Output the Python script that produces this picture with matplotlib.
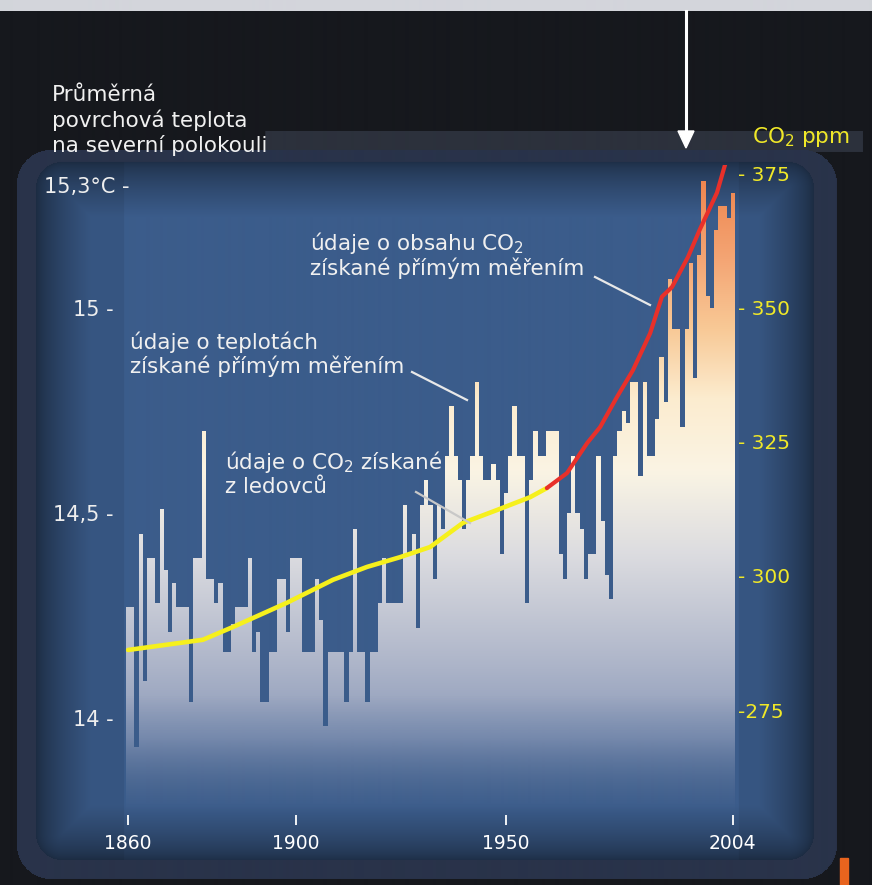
import numpy as np
import matplotlib
matplotlib.use("Agg")
import matplotlib.pyplot as plt
from matplotlib.colors import to_rgb
from matplotlib.patches import Polygon, Rectangle
from matplotlib.transforms import ScaledTranslation

# --- data ---
years = np.arange(1860, 2005)
temps = [14.27, 14.27, 13.93, 14.45, 14.09, 14.39, 14.39, 14.28, 14.51, 14.36,   # 1860s
         14.21, 14.33, 14.27, 14.27, 14.27, 14.04, 14.39, 14.39, 14.70, 14.34,   # 1870s
         14.34, 14.28, 14.33, 14.16, 14.16, 14.23, 14.27, 14.27, 14.27, 14.39,   # 1880s
         14.16, 14.21, 14.04, 14.04, 14.16, 14.16, 14.34, 14.34, 14.21, 14.39,   # 1890s
         14.39, 14.39, 14.16, 14.16, 14.16, 14.34, 14.24, 13.98, 14.16, 14.16,   # 1900s
         14.16, 14.16, 14.04, 14.16, 14.46, 14.16, 14.16, 14.04, 14.16, 14.16,   # 1910s
         14.28, 14.39, 14.28, 14.28, 14.28, 14.28, 14.52, 14.40, 14.45, 14.22,   # 1920s
         14.52, 14.58, 14.52, 14.34, 14.52, 14.46, 14.64, 14.76, 14.64, 14.58,   # 1930s
         14.46, 14.58, 14.64, 14.82, 14.64, 14.58, 14.58, 14.62, 14.58, 14.40,   # 1940s
         14.55, 14.64, 14.76, 14.64, 14.64, 14.28, 14.58, 14.70, 14.64, 14.64,   # 1950s
         14.70, 14.70, 14.70, 14.40, 14.34, 14.50, 14.64, 14.50, 14.46, 14.34,   # 1960s
         14.40, 14.40, 14.64, 14.48, 14.35, 14.29, 14.64, 14.70, 14.75, 14.72,   # 1970s
         14.82, 14.82, 14.59, 14.82, 14.64, 14.64, 14.73, 14.88, 14.77, 15.07,   # 1980s
         14.95, 14.95, 14.71, 14.95, 15.11, 14.83, 15.13, 15.31, 15.03, 15.00,   # 1990s
         15.19, 15.25, 15.25, 15.22, 15.28]                                      # 2000s

ice_years = [1860, 1877.8, 1885, 1897.8, 1908.8, 1916.9, 1924.7, 1931.9, 1939.7, 1947.8, 1955.7, 1959.7]
ice_co2 = [286.2, 288.1, 290.5, 295.0, 299.3, 301.7, 303.5, 305.4, 309.9, 312.3, 314.7, 316.4]

meas_years = [1959.7, 1964.5, 1969.3, 1972.4, 1976.4, 1980.2, 1984.3, 1987.1, 1989.5, 1993.3, 1996.1, 2000.2, 2002.6]
meas_co2 = [316.4, 319.2, 324.8, 327.8, 333.4, 338.4, 345.3, 352.1, 353.9, 359.5, 364.6, 371.5, 378.0]

temp_ticks = [14, 14.5, 15, 15.3]
temp_labels = ["14 -", "14,5 -", "15 -", "15,3°C -"]
co2_ticks = [275, 300, 325, 350, 375]
co2_labels = ["-275", "- 300", "- 325", "- 350", "- 375"]
year_ticks = [1860, 1900, 1950, 2004]

W, H = 872, 885
fig = plt.figure(figsize=(W / 100, H / 100), dpi=100, facecolor="#16181d")

# background layer in pixel coordinates
ax_bg = fig.add_axes([0, 0, 1, 1])
ax_bg.set_xlim(0, W)
ax_bg.set_ylim(H, 0)
ax_bg.axis("off")


def rr_sdf(xx, yy, x0, y0, x1, y1, r):
    cx, cy = (x0 + x1) / 2, (y0 + y1) / 2
    qx = np.abs(xx - cx) - ((x1 - x0) / 2 - r)
    qy = np.abs(yy - cy) - ((y1 - y0) / 2 - r)
    out = np.hypot(np.maximum(qx, 0), np.maximum(qy, 0))
    ins = np.minimum(np.maximum(qx, qy), 0)
    return out + ins - r


yy, xx = np.mgrid[0:H, 0:W] + 0.5
img = np.empty((H, W, 3))
img[:] = to_rgb("#16181d")
img[131:152, 265:862] = to_rgb("#2c313c")
sd_o = rr_sdf(xx, yy, 17, 150, 836, 879, 34)
img[sd_o < 0] = to_rgb("#29334a")
sd_i = rr_sdf(xx, yy, 36, 162, 813, 860, 26)
depth = np.clip(-sd_i / 55, 0, 1) ** 0.7
fac = 0.5 + 0.5 * depth
fac = fac * np.where((xx < 124) | (xx > 738), 0.93, 1.0)
base = np.array(to_rgb("#3b5c8b"))
inner = sd_i < 0
img[inner] = base * fac[inner][:, None]
img[0:11, :] = to_rgb("#d3d5db")
ax_bg.imshow(img, extent=[0, W, H, 0], interpolation="bilinear", aspect="auto")
ax_bg.add_patch(Rectangle((840, 858), 8, 27, color="#e8641e"))


# main chart axes
def T(ypx):
    return 15 - (ypx - 308) / 410


def C(ypx):
    return 350 + (308 - ypx) * 25 / 134


ax = fig.add_axes([126 / W, 1 - 815 / H, 609 / W, (815 - 165) / H])
ax.set_facecolor("none")
ax.set_xlim(1859.5, 2004.5)
tlo, thi = T(815), T(165)
ax.set_ylim(tlo, thi)
for s in ax.spines.values():
    s.set_visible(False)

# stepped bar outline used to clip a vertical gradient
verts = [(years[0] - 0.5, tlo)]
for yr, t in zip(years, temps):
    verts += [(yr - 0.5, t), (yr + 0.5, t)]
verts.append((years[-1] + 0.5, tlo))
clip = Polygon(verts, closed=True, facecolor="none", edgecolor="none")
ax.add_patch(clip)

stops = [(13.76, "#5d7399"), (13.95, "#8a99b8"), (14.15, "#b1b8cb"), (14.40, "#dcdce0"),
         (14.60, "#faf4e4"), (14.78, "#fceccf"), (14.95, "#f8c996"), (15.12, "#f4a574"),
         (15.35, "#ee8048")]
tv = np.linspace(tlo, thi, 500)
sv = [s[0] for s in stops]
rgb = np.stack([np.interp(tv, sv, [to_rgb(s[1])[k] for s in stops]) for k in range(3)], axis=1)
alpha = np.interp(tv, [tlo, 13.85, 13.95, 14.05], [0.0, 0.35, 0.75, 1.0])
grad = np.concatenate([rgb, alpha[:, None]], axis=1)[:, None, :]
im = ax.imshow(grad, extent=[1859.5, 2004.5, tlo, thi], origin="lower", aspect="auto",
               interpolation="bilinear", zorder=1)
im.set_clip_path(clip)

ax.set_xticks(year_ticks, [str(y) for y in year_ticks])
ax.tick_params(axis="x", length=7, width=1.3, color="white", pad=7, labelsize=13.5,
               labelcolor="white")
ax.set_yticks(temp_ticks, temp_labels)
ax.tick_params(axis="y", length=0, pad=9, labelsize=15, labelcolor="#eeeeee")
for lbl in ax.get_yticklabels():
    if "°C" in lbl.get_text():
        lbl.set_transform(lbl.get_transform() + ScaledTranslation(0.16, 0, fig.dpi_scale_trans))

ax2 = ax.twinx()
ax2.set_ylim(C(815), C(165))
for s in ax2.spines.values():
    s.set_visible(False)
ax2.plot(ice_years, ice_co2, color="#f6f01c", lw=3.3, solid_capstyle="round", zorder=3)
ax2.plot(meas_years, meas_co2, color="#e8302a", lw=3.0, solid_capstyle="round", zorder=3)
ax2.set_yticks(co2_ticks, co2_labels)
ax2.tick_params(axis="y", length=0, pad=2, labelsize=14.5, labelcolor="#f0e828")

# overlay for labels, leaders and arrow (pixel coordinates)
ov = fig.add_axes([0, 0, 1, 1], zorder=5)
ov.set_xlim(0, W)
ov.set_ylim(H, 0)
ov.axis("off")
ov.patch.set_alpha(0)

txt = dict(color="#f0f0f0", fontsize=15.5, va="center", ha="left")
for i, line in enumerate(["Průměrná", "povrchová teplota", "na severní polokouli"]):
    ov.text(52, 95 + 25 * i, line, **txt)
ov.text(752, 137, "CO$_2$ ppm", color="#f0e828", fontsize=15.5, va="center", ha="left")
ov.text(310, 243, "údaje o obsahu CO$_2$", **txt)
ov.text(310, 268, "získané přímým měřením", **txt)
ov.text(130, 342, "údaje o teplotách", **txt)
ov.text(130, 366, "získané přímým měřením", **txt)
ov.text(225, 462, "údaje o CO$_2$ získané", **txt)
ov.text(225, 487, "z ledovců", **txt)

ov.plot([595, 650], [277, 305], color="#e8e8e8", lw=1.6)
ov.plot([412, 467], [372, 400], color="#e8e8e8", lw=1.6)
ov.plot([416, 470], [492, 523], color="#c8c8c8", lw=1.6)

ov.plot([686, 686], [11, 133], color="white", lw=2.2)
ov.add_patch(Polygon([(678, 131), (694, 131), (686, 148)], closed=True, color="white"))

fig.savefig("out.png", dpi=100, facecolor=fig.get_facecolor())
